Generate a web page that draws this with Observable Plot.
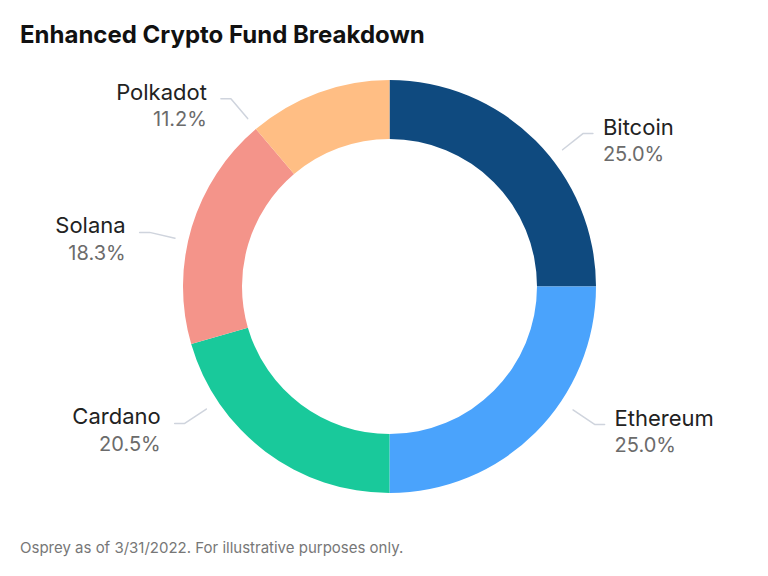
<!DOCTYPE html>
<html><head><meta charset="utf-8">
<script src="https://cdn.jsdelivr.net/npm/d3@7"></script>
<script src="https://cdn.jsdelivr.net/npm/@observablehq/plot@0.6"></script>
<style>
body{margin:0;background:#fff;font-family:Inter,"Noto Sans",sans-serif;}
#title{padding:20px 0 0 20px;font-size:24px;font-weight:700;line-height:30px;height:30px;color:#111;}
#chart{height:480px;}
#caption{padding-left:20px;margin-top:8px;font-size:15px;line-height:20px;color:#777;}
</style></head><body>
<div id="title">Enhanced Crypto Fund Breakdown</div>
<div id="chart"></div>
<div id="caption">Osprey as of 3/31/2022. For illustrative purposes only.</div>
<script>
// Data
const categories = ["Bitcoin", "Ethereum", "Cardano", "Solana", "Polkadot"];
const shares = [25.0, 25.0, 20.5, 18.3, 11.2];
const colors = ["#0f4a7f", "#4aa3fc", "#19c99b", "#f4948a", "#ffbe84"];

// Layout (not data)
const W = 768, H = 480, cx = 389.5, cy = 236.5;
const R1 = 206.5, R0 = 147.5;
const leaderAngles = [51.5, 123.9, 236.4, 282.8, 319.8]; // degrees, clockwise from top

const data = categories.map((name, i) => ({name, share: shares[i]}));
const color = d3.scaleOrdinal(categories, colors);
const pieData = d3.pie().value(d => d.share).sort(null)(data);

const pt = (deg, r) => {
  const a = deg * Math.PI / 180;
  return [r * Math.sin(a), -r * Math.cos(a)];
};

const leaders = [];
const labels = [];
data.forEach((d, i) => {
  const th = leaderAngles[i];
  const right = th < 180;
  const A = pt(th, R1 + 14);
  const B = pt(th, R1 + 40);
  const C = [B[0] + (right ? 10 : -10), B[1]];
  leaders.push({name: d.name, x: A[0], y: A[1]}, {name: d.name, x: B[0], y: B[1]}, {name: d.name, x: C[0], y: C[1]});
  labels.push({name: d.name, pct: d.share.toFixed(1) + "%", x: C[0] + (right ? 10 : -14), y: C[1] - 6, anchor: right ? "start" : "end"});
});

function ring(index, scales) {
  const x0 = scales.x(0), y0 = scales.y(0);
  const k = scales.x(1) - scales.x(0);
  const arc = d3.arc().innerRadius(R0 * k).outerRadius(R1 * k);
  const g = d3.create("svg:g").attr("transform", `translate(${x0},${y0})`);
  g.selectAll("path").data(pieData).join("path")
    .attr("d", arc)
    .attr("fill", d => color(d.data.name));
  return g.node();
}

const right = labels.filter(d => d.anchor === "start");
const left = labels.filter(d => d.anchor === "end");

const chart = Plot.plot({
  width: W,
  height: H,
  margin: 0,
  x: {domain: [-cx, W - cx], range: [0, W], axis: null},
  y: {domain: [-cy, H - cy], range: [0, H], axis: null},
  style: {fontFamily: "Inter, 'Noto Sans', sans-serif", background: "#fff", overflow: "visible"},
  marks: [
    ring,
    Plot.line(leaders, {x: "x", y: "y", z: "name", stroke: "#cfd4dd", strokeWidth: 1.5, curve: "linear"}),
    Plot.text(right, {x: "x", y: "y", text: "name", textAnchor: "start", lineAnchor: "middle", fontSize: 22, fill: "#222"}),
    Plot.text(right, {x: "x", y: "y", text: "pct", textAnchor: "start", lineAnchor: "middle", dy: 27, fontSize: 20, fill: "#6b6b6b"}),
    Plot.text(left, {x: "x", y: "y", text: "name", textAnchor: "end", lineAnchor: "middle", fontSize: 22, fill: "#222"}),
    Plot.text(left, {x: "x", y: "y", text: "pct", textAnchor: "end", lineAnchor: "middle", dy: 27, fontSize: 20, fill: "#6b6b6b"})
  ]
});
document.getElementById("chart").appendChild(chart);
</script>
</body></html>
